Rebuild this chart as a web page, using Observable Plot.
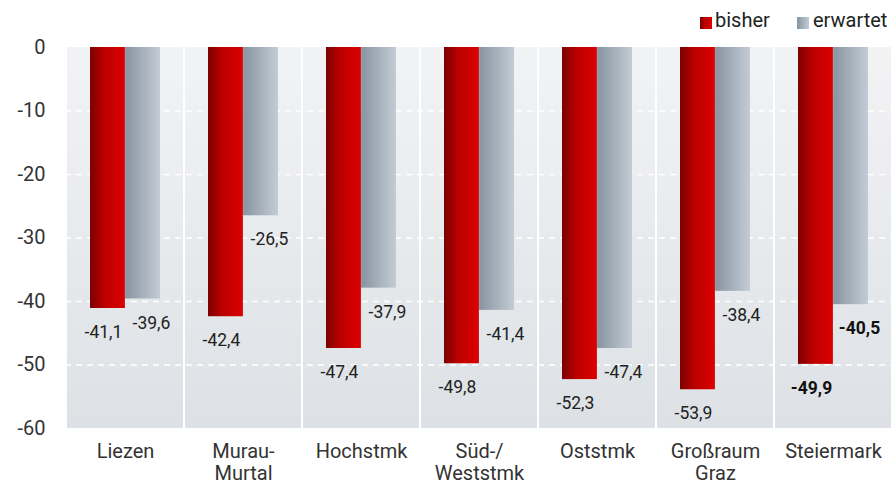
<!DOCTYPE html>
<html>
<head>
<meta charset="utf-8">
<script src="https://cdn.jsdelivr.net/npm/d3@7"></script>
<script src="https://cdn.jsdelivr.net/npm/@observablehq/plot@0.6"></script>
<style>
  html, body { margin: 0; padding: 0; background: #fff; }
  body { font-family: Roboto, "Noto Sans", sans-serif; }
  #wrap { width: 894px; height: 484px; position: relative; overflow: hidden; }
  #legend { position: relative; height: 36px; font-size: 20px; color: #222; }
  .sw { position: absolute; top: 17px; width: 12px; height: 12px; }
  .lt { position: absolute; top: 8px; line-height: 24px; }
</style>
</head>
<body>
<div id="wrap">
  <div id="legend">
    <div class="sw" style="left:700px;background:linear-gradient(to right,#7d0000,#c00000 45%,#dd0000);"></div>
    <div class="lt" style="left:715px;">bisher</div>
    <div class="sw" style="left:797px;background:linear-gradient(to right,#8794a1,#c3ccd5);"></div>
    <div class="lt" style="left:813px;">erwartet</div>
  </div>
  <div id="chart"></div>
</div>
<script>
const categories = ["Liezen", "Murau-Murtal", "Hochstmk", "Süd-/Weststmk", "Oststmk", "Großraum Graz", "Steiermark"];
const categoryLabels = ["Liezen", "Murau-\nMurtal", "Hochstmk", "Süd-/\nWeststmk", "Oststmk", "Großraum\nGraz", "Steiermark"];
const bisher = [-41.1, -42.4, -47.4, -49.8, -52.3, -53.9, -49.9];
const erwartet = [-39.6, -26.5, -37.9, -41.4, -47.4, -38.4, -40.5];
const yTicks = [0, -10, -20, -30, -40, -50, -60];
const gridTicks = [-10, -20, -30, -40, -50];
const boldCategory = "Steiermark";

const rowsB = categories.map((c, i) => ({cat: c, value: bisher[i]}));
const rowsE = categories.map((c, i) => ({cat: c, value: erwartet[i]}));
const bgRows = categories.map(c => ({cat: c, top: 0, bottom: -60}));
const labelRows = categories.map((c, i) => ({cat: c, label: categoryLabels[i]}));
const fmt = v => d3.format(".1f")(v).replace(".", ",").replace("−", "-");
const isBold = d => d.cat === boldCategory;
const notBold = d => d.cat !== boldCategory;

function valueLabels(rows, dx) {
  const common = {x: "cat", y: "value", text: d => fmt(d.value), dx, dy: 24, fontSize: 17.5, fill: "#222"};
  return [
    Plot.text(rows.filter(notBold), {...common}),
    Plot.text(rows.filter(isBold), {...common, fontWeight: "bold", fill: "#111"})
  ];
}

const plot = Plot.plot({
  width: 894,
  height: 448,
  marginLeft: 65,
  marginRight: 1,
  marginTop: 11,
  marginBottom: 56,
  style: {fontFamily: "Roboto, 'Noto Sans', sans-serif", background: "transparent", overflow: "visible"},
  x: {domain: categories, paddingInner: 0.406, paddingOuter: 0.203, axis: null},
  y: {domain: [-60, 0], axis: null},
  marks: [
    Plot.rectY(bgRows, {x: "cat", y1: "bottom", y2: "top", fill: "url(#gBg)", insetLeft: -23, insetRight: -23}),
    Plot.ruleY(gridTicks, {stroke: "#ffffff", strokeWidth: 1.5, strokeDasharray: "6,5"}),
    Plot.barY(rowsB, {x: "cat", y: "value", fill: "url(#gRed)", insetRight: 35.1}),
    Plot.barY(rowsE, {x: "cat", y: "value", fill: "url(#gGray)", insetLeft: 35.1}),
    ...valueLabels(rowsB, -22),
    ...valueLabels(rowsE, 26),
    Plot.text(yTicks, {y: d => d, text: d => String(d).replace("−", "-"), frameAnchor: "left",
      textAnchor: "end", dx: -20, fontSize: 20, fill: "#333"}),
    Plot.text(labelRows, {x: "cat", y: -60, text: "label", lineAnchor: "top", dy: 14, fontSize: 20, fill: "#333", lineHeight: 1.1})
  ]
});

const defs = d3.select(plot).insert("defs", ":first-child");
const red = defs.append("linearGradient").attr("id", "gRed").attr("x1", 0).attr("x2", 1).attr("y1", 0).attr("y2", 0);
red.append("stop").attr("offset", "0%").attr("stop-color", "#7a0000");
red.append("stop").attr("offset", "40%").attr("stop-color", "#bb0000");
red.append("stop").attr("offset", "100%").attr("stop-color", "#dc0000");
const gray = defs.append("linearGradient").attr("id", "gGray").attr("x1", 0).attr("x2", 1).attr("y1", 0).attr("y2", 0);
gray.append("stop").attr("offset", "0%").attr("stop-color", "#8794a1");
gray.append("stop").attr("offset", "100%").attr("stop-color", "#c3ccd5");
const bg = defs.append("linearGradient").attr("id", "gBg").attr("x1", 0).attr("x2", 0).attr("y1", 0).attr("y2", 1);
bg.append("stop").attr("offset", "0%").attr("stop-color", "#f2f3f5");
bg.append("stop").attr("offset", "100%").attr("stop-color", "#dde1e5");

document.getElementById("chart").appendChild(plot);
</script>
</body>
</html>
